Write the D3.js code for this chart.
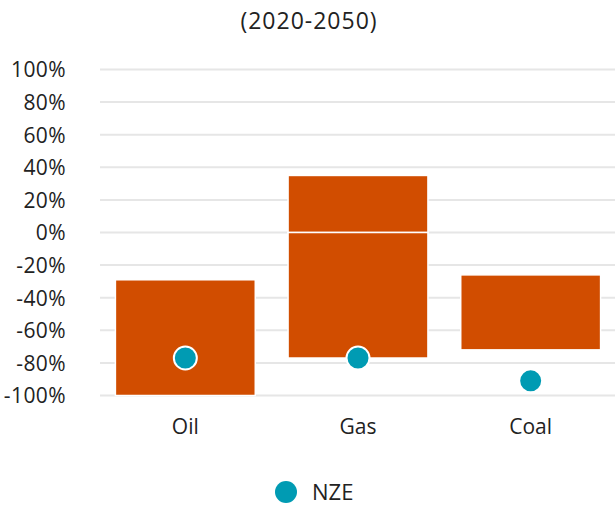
<!DOCTYPE html>
<html><head><meta charset="utf-8">
<script src="https://cdn.jsdelivr.net/npm/d3@7"></script>
<style>
body{margin:0;background:#fff;}
svg text{font-family:"Open Sans",sans-serif;fill:#222;}
</style></head>
<body><svg id="c" width="615" height="510"></svg>
<script>
const title = "(2020-2050)";
const categories = ["Oil", "Gas", "Coal"];
const rangeHigh = [-29, 35, -26];
const rangeLow = [-100, -77, -72];
const nze = [-77, -77, -91];
const tickValues = [100, 80, 60, 40, 20, 0, -20, -40, -60, -80, -100];
const legendLabel = "NZE";

const svg = d3.select("#c");
const y = d3.scaleLinear().domain([-100, 100]).range([395.5, 69.5]);
const x = d3.scaleBand().domain(categories).range([99, 617]).paddingInner(0.19).paddingOuter(0.095);

svg.append("text").attr("x", 309).attr("y", 21).attr("dy", "0.35em").attr("text-anchor", "middle")
  .style("font-size", "23px").style("letter-spacing", "1px").text(title);

// gridlines
svg.append("g").selectAll("line").data(tickValues).join("line")
  .attr("x1", 100).attr("x2", 615).attr("y1", d => y(d)).attr("y2", d => y(d))
  .attr("stroke", "#e6e6e6").attr("stroke-width", 2);

// y axis labels
const yAxis = d3.axisLeft(y).tickValues(tickValues).tickSize(0).tickPadding(0).tickFormat(d => d + "%");
const ga = svg.append("g").attr("transform", "translate(66,0)").call(yAxis);
ga.select(".domain").remove();
ga.selectAll("text").style("font-size", "21px").style("letter-spacing", "0.4px").attr("dy", "0.35em").attr("fill", "#222");

// bars (split at zero)
const segs = [];
categories.forEach((c, i) => {
  const lo = rangeLow[i], hi = rangeHigh[i];
  if (lo < 0 && hi > 0) { segs.push({c, a: 0, b: hi}); segs.push({c, a: lo, b: 0}); }
  else segs.push({c, a: lo, b: hi});
});
svg.append("g").selectAll("rect").data(segs).join("rect")
  .attr("x", d => x(d.c)).attr("width", x.bandwidth())
  .attr("y", d => y(Math.max(d.a, d.b))).attr("height", d => Math.abs(y(d.a) - y(d.b)))
  .attr("fill", "#d14d00").attr("stroke", "#fff").attr("stroke-width", 1.5);

// NZE dots
svg.append("g").selectAll("circle").data(categories).join("circle")
  .attr("cx", d => x(d) + x.bandwidth() / 2).attr("cy", (d, i) => y(nze[i]))
  .attr("r", 11.5).attr("fill", "#009bb3").attr("stroke", "#fff").attr("stroke-width", 2);

// x labels
const xAxis = d3.axisBottom(x).tickSize(0).tickPadding(0);
const gx = svg.append("g").attr("transform", "translate(0,427)").call(xAxis);
gx.select(".domain").remove();
gx.selectAll("text").attr("dy", "0.35em").style("font-size", "21px").attr("fill", "#222");

// legend
const lg = svg.append("g");
lg.append("circle").attr("cx", 286).attr("cy", 492).attr("r", 11).attr("fill", "#009bb3");
lg.append("text").attr("x", 312).attr("y", 492).attr("dy", "0.35em").style("font-size", "22px").text(legendLabel);
</script></body></html>
